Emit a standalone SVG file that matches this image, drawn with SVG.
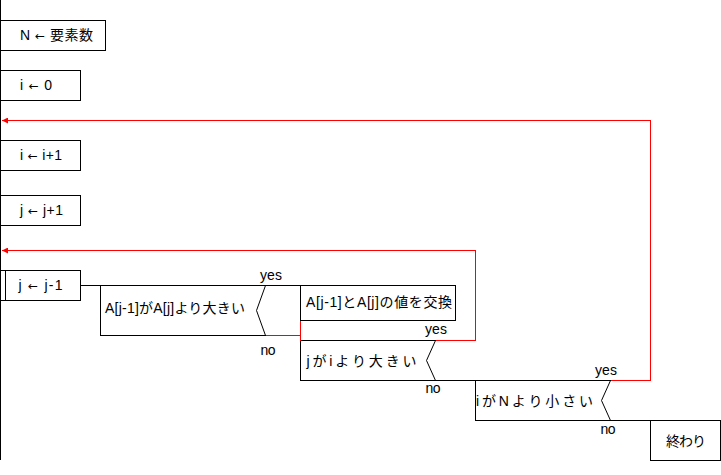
<svg xmlns="http://www.w3.org/2000/svg" width="721" height="475" viewBox="0 0 721 475">
<style>
.box{fill:#fff;stroke:#000;stroke-width:1;shape-rendering:crispEdges}
.ln{fill:none;stroke:#000;stroke-width:1;shape-rendering:crispEdges}
.dg{fill:none;stroke:#000;stroke-width:1}
.red{fill:none;stroke:#f00;stroke-width:1;shape-rendering:crispEdges}
text{font-family:"Liberation Sans","Noto Sans CJK JP",sans-serif;font-size:14px;fill:#000}
.ar{font-family:"DejaVu Sans",sans-serif;font-size:12px}
</style>
<defs>
<marker id="arr" viewBox="0 0 6 6" markerWidth="6" markerHeight="6" markerUnits="userSpaceOnUse" refX="6" refY="3" orient="auto">
<polygon points="0,0 6,3 0,6" fill="#f00"/>
</marker>
</defs>
<rect width="721" height="475" fill="#fff"/>
<g id="connectors">
<path class="ln" d="M0.5 0V460"/>
<path class="ln" d="M80.5 285.5H300.5"/>
<path class="ln" d="M300.5 340.5H435.5"/>
<path class="ln" d="M300.5 380.5H610.5"/>
<path class="ln" d="M475.5 420.5H650.5"/>
<path class="red" d="M265.5 335.5H300.5"/>
<path class="red" d="M300.5 320.5V340.5"/>
<path class="red" d="M435.5 340.5H475.5V250.5H2" marker-end="url(#arr)"/>
<path class="red" d="M610.5 380.5H650.5V120.5H2" marker-end="url(#arr)"/>
<text x="260" y="280" textLength="22">yes</text>
<text x="260.5" y="355" textLength="15">no</text>
<text x="425" y="334" textLength="22">yes</text>
<text x="425.5" y="393" textLength="15">no</text>
<text x="595" y="375" textLength="22">yes</text>
<text x="600.5" y="434" textLength="15">no</text>
</g>
<g id="n1">
<rect class="box" x="0.5" y="20.5" width="105" height="30"/>
<text x="20" y="40" textLength="73">N <tspan class="ar">←</tspan> 要素数</text>
</g>
<g id="n2">
<rect class="box" x="0.5" y="70.5" width="80" height="30"/>
<text x="20" y="89.5" textLength="32">i <tspan class="ar">←</tspan> 0</text>
</g>
<g id="n3">
<rect class="box" x="0.5" y="140.5" width="80" height="30"/>
<text x="20" y="159.5" textLength="42">i <tspan class="ar">←</tspan> i+1</text>
</g>
<g id="n4">
<rect class="box" x="0.5" y="195.5" width="80" height="30"/>
<text x="20" y="214.5" textLength="43">j <tspan class="ar">←</tspan> j+1</text>
</g>
<g id="n5">
<rect class="box" x="0.5" y="270.5" width="80" height="30"/>
<path class="ln" d="M5.5 270.5V300.5"/>
<text x="18.5" y="289.5" textLength="44">j <tspan class="ar">←</tspan> j-1</text>
</g>
<g id="d1">
<path class="ln" d="M100.5 285.5V335.5H265.5"/>
<path class="dg" d="M265.5 285.5L256.5 310.5L265.5 335.5"/>
<text x="105" y="312.5" textLength="140">A[j-1]がA[j]より大きい</text>
</g>
<g id="n6">
<rect class="box" x="300.5" y="285.5" width="155" height="35"/>
<text x="306" y="307" textLength="146">A[j-1]とA[j]の値を交換</text>
</g>
<g id="d2">
<path class="ln" d="M300.5 340.5V380.5"/>
<path class="dg" d="M435.5 340.5L426.5 360.5L435.5 380.5"/>
<text x="306.5" y="365.5" textLength="110">jがiより大きい</text>
</g>
<g id="d3">
<path class="ln" d="M475.5 380.5V420.5"/>
<path class="dg" d="M610.5 380.5L601.5 400.5L610.5 420.5"/>
<text x="476" y="406" textLength="117">iがNより小さい</text>
</g>
<g id="n7">
<rect class="box" x="650.5" y="420.5" width="70" height="40"/>
<text x="666" y="445.5" textLength="40">終わり</text>
</g>
</svg>
